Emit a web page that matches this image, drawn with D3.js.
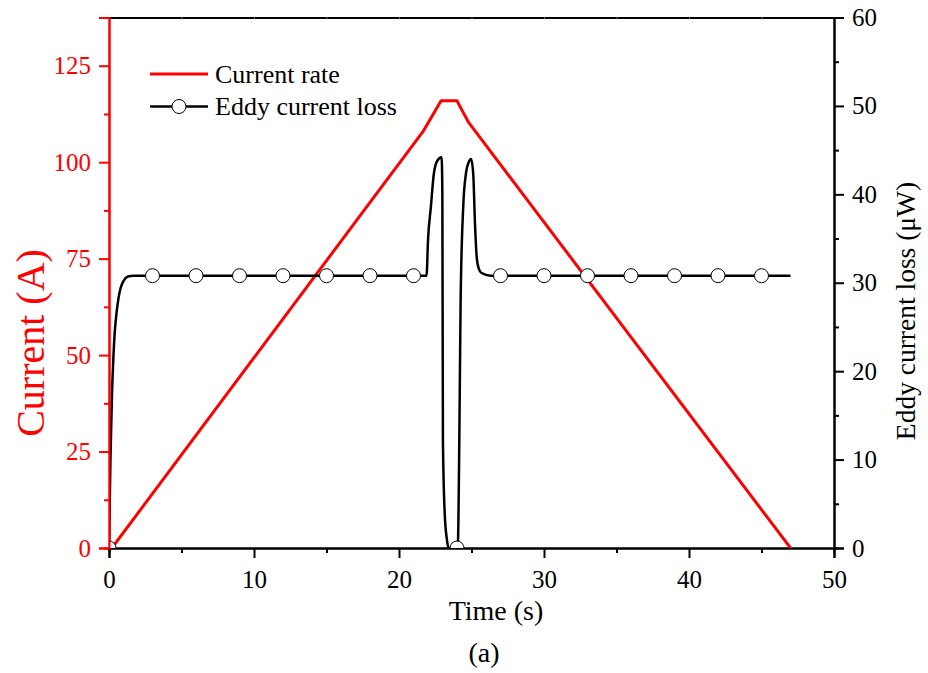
<!DOCTYPE html>
<html>
<head>
<meta charset="utf-8">
<script src="https://cdn.jsdelivr.net/npm/d3@7"></script>
<style>
  body { margin: 0; background: #fff; }
  svg text { font-family: "Liberation Serif", "Times New Roman", serif; }
</style>
</head>
<body>
<svg id="chart" width="928" height="673"></svg>
<script>
// current rate (A) vs time (s)
const currentT = [0.2, 21.7, 22.9, 24.0, 24.8, 47];
const currentA = [0, 108.2, 115.9, 115.9, 110.3, 0];

// eddy current loss (uW) vs time (s)
const lossT = [0, 0.05, 0.1, 0.2, 0.3, 0.4, 0.5, 0.65, 0.8, 1.0, 1.3, 1.7,
  21.9, 22.0, 22.2, 22.4, 22.64, 22.94, 22.99, 23.03, 23.15, 23.3, 23.42,
  24.05, 24.16, 24.25, 24.43, 24.62, 24.8, 24.97, 25.12, 25.24, 25.36, 25.5, 25.7, 26.3, 47];
const lossW = [0, 5, 10, 17, 21.5, 24.5, 26.3, 28.2, 29.4, 30.2, 30.7, 30.8,
  30.8, 34.8, 38.6, 42.3, 43.8, 44.2, 40, 12.2, 4, 1, 0,
  0, 12.2, 28, 38.6, 42.4, 43.6, 44, 42.3, 36.7, 32.9, 31.6, 31.1, 30.8, 30.8];

// marker positions
const markerT = [0, 3, 6, 9, 12, 15, 18, 21, 24, 27, 30, 33, 36, 39, 42, 45];
const markerW = [0, 30.8, 30.8, 30.8, 30.8, 30.8, 30.8, 30.8, 0, 30.8, 30.8, 30.8, 30.8, 30.8, 30.8, 30.8];

const xTicks = [0, 10, 20, 30, 40, 50];
const leftTicks = [0, 25, 50, 75, 100, 125];
const rightTicks = [0, 10, 20, 30, 40, 50, 60];

const FONT = '"Liberation Serif", "Times New Roman", serif';
const svg = d3.select('#chart');
const pL = 109, pR = 834, pT = 17.5, pB = 548;

const x = d3.scaleLinear().domain([0, 50]).range([pL, pR]);
const yL = d3.scaleLinear().domain([0, 137.5]).range([pB, pT]);
const yR = d3.scaleLinear().domain([0, 60]).range([pB, pT]);

function styleAxis(g, color, size) {
  g.attr('font-family', FONT);
  g.select('.domain').attr('stroke', color).attr('stroke-width', 2);
  g.selectAll('.tick line').attr('stroke', color).attr('stroke-width', 2);
  g.selectAll('.tick text').attr('fill', color)
    .style('font-family', FONT).style('font-size', size + 'px');
}

svg.append('clipPath').attr('id', 'plot')
  .append('rect').attr('x', pL).attr('y', pT)
  .attr('width', pR - pL).attr('height', pB - pT);

// minor ticks
svg.append('g').attr('transform', `translate(0,${pB})`)
  .call(d3.axisBottom(x).tickValues(d3.range(5, 50, 10)).tickSize(5).tickFormat(''))
  .call(g => styleAxis(g, '#000', 25));
svg.append('g').attr('transform', `translate(${pL},0)`)
  .call(d3.axisLeft(yL).tickValues(d3.range(12.5, 150, 25)).tickSize(5).tickFormat(''))
  .call(g => styleAxis(g, 'red', 25));
svg.append('g').attr('transform', `translate(${pR},0)`)
  .call(d3.axisRight(yR).tickValues(d3.range(5, 60, 10)).tickSize(5).tickFormat(''))
  .call(g => styleAxis(g, '#000', 25));

// top frame with faint inner ticks
svg.append('g').attr('transform', `translate(0,${pT})`)
  .call(d3.axisBottom(x).tickValues(d3.range(5, 50, 5)).tickSize(2).tickSizeOuter(0).tickFormat(''))
  .call(g => {
    styleAxis(g, '#000', 25);
    g.selectAll('.tick line').attr('stroke', '#888').attr('stroke-width', 1);
  });

svg.append('g').attr('transform', `translate(0,${pB})`)
  .call(d3.axisBottom(x).tickValues(xTicks).tickSize(10).tickPadding(12))
  .call(g => styleAxis(g, '#000', 25));
svg.append('g').attr('transform', `translate(${pR},0)`)
  .call(d3.axisRight(yR).tickValues(rightTicks).tickSize(10).tickPadding(8))
  .call(g => styleAxis(g, '#000', 25));

const plot = svg.append('g').attr('clip-path', 'url(#plot)');

// data lines
const curLine = d3.line().x((d, i) => x(currentT[i])).y(d => yL(d));
plot.append('path').datum(currentA)
  .attr('d', curLine)
  .attr('fill', 'none').attr('stroke', 'red').attr('stroke-width', 3)
  .attr('stroke-linejoin', 'round');

const lossLine = d3.line().x((d, i) => x(lossT[i])).y(d => yR(d)).curve(d3.curveMonotoneX);
plot.append('path').datum(lossW)
  .attr('d', lossLine)
  .attr('fill', 'none').attr('stroke', '#000').attr('stroke-width', 2.5)
  .attr('stroke-linejoin', 'round');

plot.append('g').selectAll('circle').data(markerW).join('circle')
  .attr('cx', (d, i) => x(markerT[i]))
  .attr('cy', d => yR(d))
  .attr('r', 7)
  .attr('fill', '#fff').attr('stroke', '#000').attr('stroke-width', 1);

// left axis drawn over the curves at the origin
svg.append('g').attr('transform', `translate(${pL},0)`)
  .call(d3.axisLeft(yL).tickValues(leftTicks).tickSize(10).tickPadding(8))
  .call(g => styleAxis(g, 'red', 25));

// axis titles
svg.append('text')
  .attr('transform', `translate(44,343) rotate(-90)`)
  .attr('text-anchor', 'middle').attr('fill', 'red')
  .style('font-size', '40px').text('Current (A)');
svg.append('text')
  .attr('transform', `translate(915,311) rotate(-90)`)
  .attr('text-anchor', 'middle').attr('fill', '#000')
  .style('font-size', '27.5px').text('Eddy current loss (\u03bcW)');
svg.append('text')
  .attr('x', 496).attr('y', 620)
  .attr('text-anchor', 'middle').style('font-size', '28px').text('Time (s)');
svg.append('text')
  .attr('x', 484).attr('y', 662)
  .attr('text-anchor', 'middle').style('font-size', '28px').text('(a)');

// legend
const legend = svg.append('g');
legend.append('line').attr('x1', 150).attr('x2', 208).attr('y1', 74).attr('y2', 74)
  .attr('stroke', 'red').attr('stroke-width', 3);
legend.append('text').attr('x', 215).attr('y', 83).style('font-size', '26px').text('Current rate');
legend.append('line').attr('x1', 150).attr('x2', 208).attr('y1', 106.5).attr('y2', 106.5)
  .attr('stroke', '#000').attr('stroke-width', 2.5);
legend.append('circle').attr('cx', 179).attr('cy', 106.5).attr('r', 7)
  .attr('fill', '#fff').attr('stroke', '#000').attr('stroke-width', 1);
legend.append('text').attr('x', 215).attr('y', 115).style('font-size', '26px').text('Eddy current loss');
</script>
</body>
</html>
